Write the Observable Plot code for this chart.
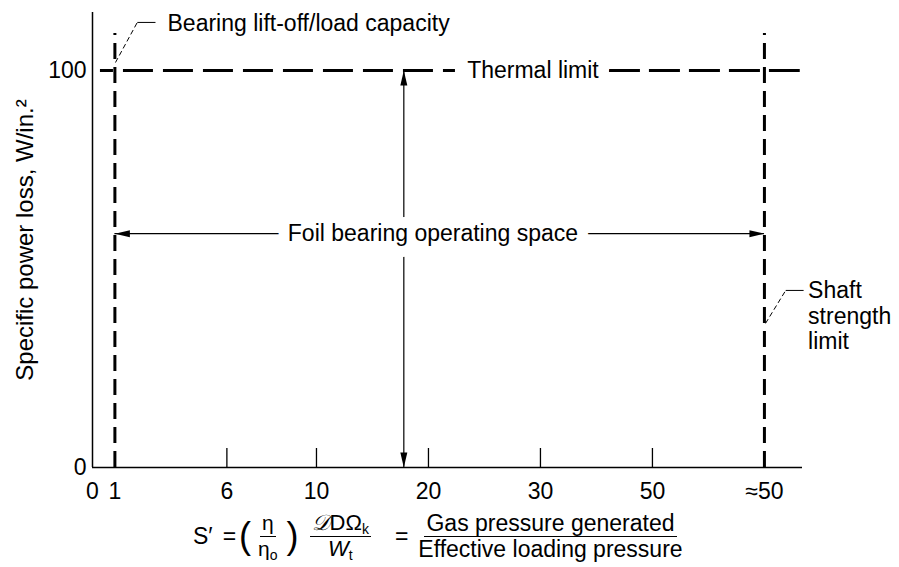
<!DOCTYPE html>
<html>
<head>
<meta charset="utf-8">
<script src="https://cdn.jsdelivr.net/npm/d3@7"></script>
<script src="https://cdn.jsdelivr.net/npm/@observablehq/plot@0.6"></script>
<style>
  html, body { margin: 0; padding: 0; background: white; }
  #wrap { width: 899px; font-family: "Liberation Sans", Arial, Helvetica, sans-serif; color: black; }
  #formula { position: relative; width: 899px; height: 57px; font-size: 23px; }
  #row { position: absolute; left: 193px; top: 0; height: 52px; display: flex; align-items: center; white-space: nowrap; }
  .frac { display: inline-flex; flex-direction: column; align-items: center; }
  .frac .num { border-bottom: 1.5px solid black; padding: 0 2px 1px 2px; line-height: 24px; text-align: center; }
  .frac .den { line-height: 24px; text-align: center; }
  .paren { font-size: 36px; font-weight: 300; line-height: 36px; }
  sub { font-size: 14px; vertical-align: -4px; line-height: 0; }
  .script { font-family: "DejaVu Sans", "DejaVu Serif", serif; font-style: italic; }
</style>
</head>
<body>
<div id="wrap"></div>
<script>
// ---- data (schematic axis positions) ----
const xTickPos    = [0, 0.2, 1.2, 2, 3, 4, 5, 6];
const xTickLabels = ["0", "1", "6", "10", "20", "30", "50", "≈50"];
const xTickMarks  = [1.2, 2, 3, 4, 5];
const xDomain     = [0, 6.34];
const yTicks      = [0, 100];
const yDomain     = [0, 114.6];

const limitX      = [0.2, 6];        // bearing lift-off (S'=1), shaft strength (≈50)
const limitTop    = 109.3;
const thermalY    = 100;
// thermal limit dashed line, split around its label
const thermalSegX1 = [0.071, 4.616];
const thermalSegX2 = [3.241, 6.32];

const operX       = 2.78;            // vertical double arrow position
const operY       = 58.9;            // horizontal double arrow level

const labelTexts  = ["Thermal limit", "Foil bearing operating space"];
const labelX      = [3.933, 3.04];
const labelY      = [100, 58.9];

const calloutTexts = ["Bearing lift-off/load capacity", "Shaft\nstrength\nlimit"];
const calloutX     = [0.67, 6.39];
const calloutY     = [112.1, 38.3];
// leader lines: diagonal (dashed) then horizontal (solid)
const leaderDiag = [[0.205, 102.0, 0.40, 112.1], [6.01, 36.3, 6.19, 44.6]];
const leaderHorz = [[0.40, 112.1, 0.5625, 112.1], [6.19, 44.6, 6.35, 44.6]];

const yLabel = "Specific power loss, W/in.²";

// ---- build ----
const font = '"Liberation Sans", Arial, Helvetica, sans-serif';
const tickMap = new Map(xTickPos.map((p, i) => [p, xTickLabels[i]]));

const thermalSegs = thermalSegX1.map((x1, i) => ({x1, x2: thermalSegX2[i], y: thermalY}));
const labels = labelTexts.map((t, i) => ({t, x: labelX[i], y: labelY[i]}));
const callouts = calloutTexts.map((t, i) => ({t, x: calloutX[i], y: calloutY[i]}));
const diag = leaderDiag.map(([x1, y1, x2, y2]) => ({x1, y1, x2, y2}));
const horz = leaderHorz.map(([x1, y1, x2, y2]) => ({x1, y1, x2, y2}));

const heads = [
  {x: operX, y: thermalY, r: 0},
  {x: operX, y: 0, r: 180},
  {x: limitX[0], y: operY, r: -90},
  {x: limitX[1], y: operY, r: 90}
];
const arrowHead = {
  draw(context) {
    context.moveTo(0, 0);
    context.lineTo(-3.5, 15);
    context.lineTo(3.5, 15);
    context.closePath();
  }
};

const chart = Plot.plot({
  width: 899,
  height: 510,
  marginLeft: 92,
  marginRight: 97,
  marginTop: 12,
  marginBottom: 43,
  x: {domain: xDomain},
  y: {domain: yDomain},
  style: {fontFamily: font, fontSize: "23px", color: "black", background: "white", overflow: "visible"},
  marks: [
    Plot.axisX({ticks: xTickPos, tickFormat: d => tickMap.get(d), tickSize: 0, tickPadding: 15, label: null, fontSize: 23}),
    Plot.axisY({ticks: yTicks, tickSize: 0, tickPadding: 6, label: null, fontSize: 23}),
    Plot.ruleX(xTickMarks, {insetTop: 436, stroke: "black", strokeWidth: 1.3}),
    Plot.ruleY([yDomain[0]], {x1: xDomain[0], x2: xDomain[1], stroke: "black", strokeWidth: 1.5}),
    Plot.ruleX([xDomain[0]], {y1: yDomain[0], y2: yDomain[1], stroke: "black", strokeWidth: 1.5}),
    // limits
    Plot.ruleY(thermalSegs.slice(0, 1), {x1: "x1", x2: "x2", y: "y", stroke: "black", strokeWidth: 3, strokeDasharray: "30,10", strokeDashoffset: 17}),
    Plot.ruleY(thermalSegs.slice(1), {x1: "x1", x2: "x2", y: "y", stroke: "black", strokeWidth: 3, strokeDasharray: "31,9"}),
    Plot.ruleX(limitX, {y1: yDomain[0], y2: limitTop, stroke: "black", strokeWidth: 3, strokeDasharray: "16,8"}),
    // operating space arrows
    Plot.ruleX([operX], {y1: 0, y2: thermalY, stroke: "black", strokeWidth: 1.2}),
    Plot.ruleY([operY], {x1: limitX[0], x2: limitX[1], stroke: "black", strokeWidth: 1.2}),
    Plot.dot(heads, {x: "x", y: "y", rotate: "r", symbol: arrowHead, fill: "black", stroke: null, r: 3}),
    // labels with white halo to break lines
    Plot.text(labels, {x: "x", y: "y", text: "t", fill: "black", stroke: "white", strokeWidth: 22, fontSize: 23}),
    // callouts
    Plot.link(diag, {x1: "x1", y1: "y1", x2: "x2", y2: "y2", stroke: "black", strokeWidth: 1, strokeDasharray: "5,3"}),
    Plot.link(horz, {x1: "x1", y1: "y1", x2: "x2", y2: "y2", stroke: "black", strokeWidth: 1}),
    Plot.text(callouts, {x: "x", y: "y", text: "t", textAnchor: "start", fill: "black", fontSize: 23, lineHeight: 1.1}),
    // y label
    Plot.text([yLabel], {frameAnchor: "left", textAnchor: "middle", rotate: -90, dx: -67, fill: "black", fontSize: 24})
  ]
});

const wrap = document.getElementById("wrap");
wrap.appendChild(chart);

const formula = document.createElement("div");
formula.id = "formula";
formula.innerHTML = `
<div id="row">
  <span>S′</span>
  <span style="margin-left:10px">=</span>
  <span class="paren" style="margin-left:3px">(</span>
  <span class="frac" style="margin-left:7px;font-size:21px">
    <span class="num">η</span>
    <span class="den">η<sub>o</sub></span>
  </span>
  <span class="paren" style="margin-left:9px">)</span>
  <span class="frac" style="margin-left:11px;font-size:22px">
    <span class="num"><span class="script">𝒟</span>DΩ<sub>k</sub></span>
    <span class="den"><i>W</i><sub>t</sub></span>
  </span>
  <span style="margin-left:24px">=</span>
  <span class="frac" style="margin-left:10px">
    <span class="num">Gas pressure generated</span>
    <span class="den">Effective loading pressure</span>
  </span>
</div>`;
wrap.appendChild(formula);
</script>
</body>
</html>
